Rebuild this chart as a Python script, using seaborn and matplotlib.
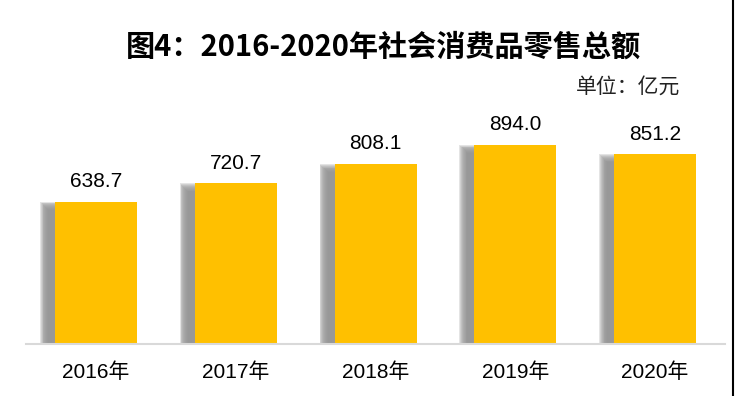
import matplotlib
matplotlib.use("Agg")
import matplotlib.pyplot as plt
import seaborn as sns
import numpy as np
import pandas as pd
from matplotlib.lines import Line2D

years = ["2016年", "2017年", "2018年", "2019年", "2020年"]
values = [638.7, 720.7, 808.1, 894.0, 851.2]
title = "图4：2016-2020年社会消费品零售总额"
unit_label = "单位：亿元"

sns.set_theme(style="white")
plt.rcParams['font.family'] = ['Liberation Sans', 'Noto Sans CJK SC', 'DejaVu Sans']

W, H = 735, 396
fig = plt.figure(figsize=(W / 100, H / 100), dpi=100)
ax_left, ax_right = 26, 725
ax_top, ax_bottom = 100, 344
ax = fig.add_axes([ax_left / W, 1 - ax_bottom / H, (ax_right - ax_left) / W, (ax_bottom - ax_top) / H])

df = pd.DataFrame({"year": years, "value": values})
px_x = (ax_right - ax_left) / len(years)          # px per x unit
px_y = 142.3 / 638.7                               # px per value unit
bar_w = 82 / px_x

# soft gray shadow to the left of each bar
xpos = np.arange(len(years))
vals = np.array(values)
core = 11.0   # px of visible shadow core
r = 4.0       # blur radius px
N = 10
for j in range(N):
    e = r - 2 * r * j / (N - 1)
    left = xpos - bar_w / 2 - (core + e) / px_x
    right = xpos + bar_w / 2
    heights = vals + (e - r) / px_y
    ax.bar(left, heights, width=right - left, align="edge", color="#959595",
           alpha=0.25, zorder=1, linewidth=0)

sns.barplot(data=df, x="year", y="value", color="#FFC000", saturation=1,
            width=bar_w, ax=ax, zorder=3, linewidth=0)

ymax = (ax_bottom - ax_top) / px_y
ax.set_ylim(0, ymax)
ax.set_xlim(-0.5, len(years) - 0.5)

for i, v in enumerate(values):
    ax.annotate(f"{v:.1f}", (i, v), xytext=(0, 14.5), textcoords="offset points",
                ha="center", va="center", fontsize=15, color="black",
                family=['Liberation Sans', 'Noto Sans CJK SC'])

ax.set_xlabel("")
ax.set_ylabel("")
ax.set_yticks([])
ax.tick_params(axis="x", length=0, pad=13, labelsize=15, labelcolor="black")
for lab in ax.get_xticklabels():
    lab.set_family(['Liberation Sans', 'Noto Sans CJK SC'])
for s in ["top", "left", "right"]:
    ax.spines[s].set_visible(False)
ax.spines["bottom"].set_color("#d9d9d9")
ax.spines["bottom"].set_linewidth(1.5)
ax.spines["bottom"].set_zorder(4)

fig.text(383 / W, 1 - 47 / H, title, ha="center", va="center", fontsize=21,
         fontweight="bold", family=['Noto Sans CJK SC', 'DejaVu Sans'], color="black")
fig.text(680 / W, 1 - 87 / H, unit_label, ha="right", va="center", fontsize=15,
         family=['Noto Sans CJK SC', 'DejaVu Sans'], color="#222222")

fig.add_artist(Line2D([733 / W, 733 / W], [0, 1], color="black", linewidth=1.5,
                      transform=fig.transFigure))

fig.savefig("out.png", dpi=100, facecolor="white")
